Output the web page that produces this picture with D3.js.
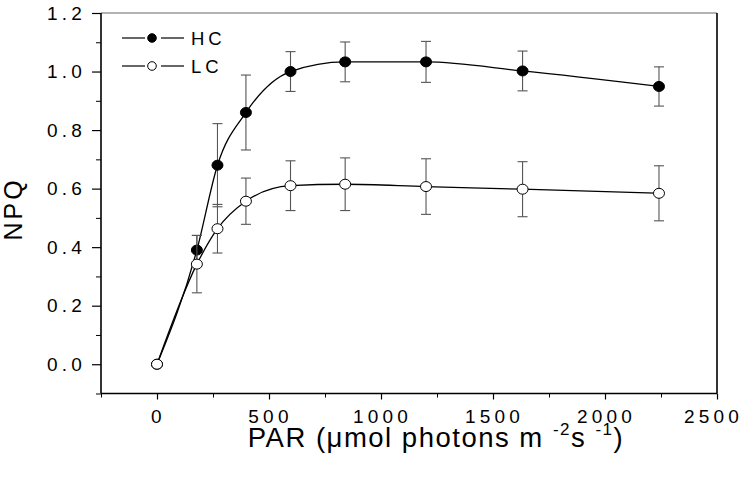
<!DOCTYPE html>
<html>
<head>
<meta charset="utf-8">
<script src="https://cdn.jsdelivr.net/npm/d3@7"></script>
<style>
  body { margin: 0; background: #fff; }
  text { font-family: "Liberation Sans", Arial, sans-serif; fill: #000; }
</style>
</head>
<body>
<svg id="chart" width="747" height="478"></svg>
<script>
// PAR values (x) and NPQ means / error bars
var par = [0, 178, 270, 397, 596, 840, 1201, 1632, 2241];
var hc = [0, 0.39, 0.68, 0.86, 1.0, 1.033, 1.033, 1.002, 0.949];
var hcErr = [0, 0.05, 0.142, 0.128, 0.068, 0.068, 0.07, 0.068, 0.067];
var lc = [0, 0.342, 0.463, 0.557, 0.610, 0.615, 0.607, 0.598, 0.584];
var lcErr = [0, 0.098, 0.083, 0.079, 0.085, 0.09, 0.095, 0.094, 0.094];
var xTicks = [0, 500, 1000, 1500, 2000, 2500];
var yTicks = [0.0, 0.2, 0.4, 0.6, 0.8, 1.0, 1.2];
var seriesNames = ["HC", "LC"];

var svg = d3.select("#chart");
var plotL = 101, plotR = 717, plotT = 13, plotB = 393.5;

var x = d3.scaleLinear().domain([-250, 2500]).range([plotL, plotR]);
var y = d3.scaleLinear().domain([-0.1, 1.2]).range([plotB, plotT]);

// frame
svg.append("line").attr("x1", plotL).attr("x2", plotR).attr("y1", plotT).attr("y2", plotT)
  .attr("stroke", "#666").attr("stroke-width", 1);
svg.append("line").attr("x1", plotR).attr("x2", plotR).attr("y1", plotT).attr("y2", plotB)
  .attr("stroke", "#000").attr("stroke-width", 1.6);

// minor ticks
var xMinor = d3.range(-250, 2501, 250).filter(function(d){ return xTicks.indexOf(d) < 0; });
var yMinor = [-0.1, 0.1, 0.3, 0.5, 0.7, 0.9, 1.1];

svg.append("g").attr("transform", "translate(0," + plotB + ")")
  .call(d3.axisBottom(x).tickValues(xMinor).tickSize(4).tickFormat(""))
  .call(function(g){ g.select(".domain").remove(); });
svg.append("g").attr("transform", "translate(" + plotL + ",0)")
  .call(d3.axisLeft(y).tickValues(yMinor).tickSize(5).tickFormat(""))
  .call(function(g){ g.select(".domain").remove(); });

var xAxis = svg.append("g").attr("transform", "translate(0," + plotB + ")")
  .call(d3.axisBottom(x).tickValues(xTicks).tickSize(6).tickPadding(10).tickFormat(d3.format("d")));
var yAxis = svg.append("g").attr("transform", "translate(" + plotL + ",0)")
  .call(d3.axisLeft(y).tickValues(yTicks).tickSize(9).tickPadding(10).tickFormat(d3.format(".1f")));

[xAxis, yAxis].forEach(function(g){
  g.select(".domain").attr("stroke-width", 1.6);
  g.selectAll(".tick line").attr("stroke-width", 1.2);
  g.selectAll(".tick text")
    .style("font-family", "Liberation Sans, Arial, sans-serif")
    .style("font-size", "19px")
    .style("letter-spacing", "4.2px");
});
xAxis.selectAll(".tick text").attr("dx", function(d){ return d === 2500 ? "-4px" : "1px"; });
yAxis.selectAll(".tick text").attr("dx", "4px");
xAxis.select(".domain").attr("d", "M" + plotL + ",0H" + plotR);
yAxis.select(".domain").attr("d", "M0," + plotT + "V" + plotB);

// axis titles
svg.append("text")
  .attr("transform", "translate(22,209) rotate(-90)")
  .attr("text-anchor", "middle")
  .style("font-size", "25px")
  .style("letter-spacing", "3px")
  .text("NPQ");

var xl = svg.append("text")
  .attr("x", 436).attr("y", 447)
  .attr("text-anchor", "middle")
  .style("font-size", "27.5px")
  .style("letter-spacing", "1.5px");
xl.append("tspan").text("PAR (\u03bcmol photons m ");
xl.append("tspan").attr("dy", -12).style("font-size", "17px").text("-2");
xl.append("tspan").attr("dy", 12).text("s ");
xl.append("tspan").attr("dy", -12).style("font-size", "17px").text("-1");
xl.append("tspan").attr("dy", 12).text(")");

var series = [
  {name: seriesNames[0], vals: hc, err: hcErr, fill: "#000"},
  {name: seriesNames[1], vals: lc, err: lcErr, fill: "#fff"}
];

var line = d3.line()
  .x(function(d){ return x(d[0]); })
  .y(function(d){ return y(d[1]); })
  .curve(d3.curveMonotoneX);

series.forEach(function(s){
  var pts = par.map(function(p, i){ return [p, s.vals[i], s.err[i]]; });
  var eb = svg.append("g").attr("stroke", "#555").attr("stroke-width", 1.1);
  pts.filter(function(d){ return d[2] > 0; }).forEach(function(d){
    var cx = x(d[0]), t = y(d[1] + d[2]), b = y(d[1] - d[2]);
    eb.append("line").attr("x1", cx).attr("x2", cx).attr("y1", t).attr("y2", b);
    eb.append("line").attr("x1", cx - 5).attr("x2", cx + 5).attr("y1", t).attr("y2", t);
    eb.append("line").attr("x1", cx - 5).attr("x2", cx + 5).attr("y1", b).attr("y2", b);
  });
  svg.append("path").datum(pts).attr("d", line)
    .attr("fill", "none").attr("stroke", "#000").attr("stroke-width", 1.3);
  svg.append("g").selectAll("ellipse").data(pts).enter().append("ellipse")
    .attr("cx", function(d){ return x(d[0]); })
    .attr("cy", function(d){ return y(d[1]); })
    .attr("rx", 5.5).attr("ry", 5)
    .attr("fill", s.fill).attr("stroke", "#000").attr("stroke-width", 1);
});

// legend
var leg = svg.append("g").selectAll("g").data(series).enter().append("g")
  .attr("transform", function(d, i){ return "translate(0," + (38 + i * 28) + ")"; });
leg.append("line").attr("x1", 122).attr("x2", 145).attr("stroke", "#000").attr("stroke-width", 1.2);
leg.append("line").attr("x1", 161).attr("x2", 184).attr("stroke", "#000").attr("stroke-width", 1.2);
leg.append("circle").attr("cx", 152).attr("r", 4.3)
  .attr("fill", function(d){ return d.fill; }).attr("stroke", "#000").attr("stroke-width", 1);
leg.append("text").attr("x", 191).attr("y", 6.5)
  .style("font-size", "18.5px").style("letter-spacing", "4px")
  .text(function(d){ return d.name; });
</script>
</body>
</html>
